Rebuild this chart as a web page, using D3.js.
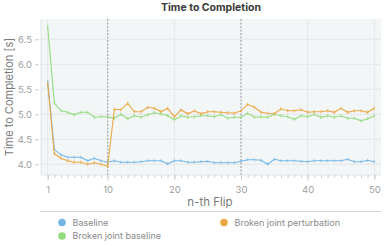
<!DOCTYPE html>
<html><head><meta charset="utf-8">
<script src="https://cdn.jsdelivr.net/npm/d3@7"></script>
<style>body{margin:0;background:#fff;}svg{display:block;font-family:Inter,"Noto Sans",sans-serif;}</style>
</head><body><svg id="c" width="390" height="247"></svg>
<script>
const flips = d3.range(1, 51);
const baseline = [5.66,4.30,4.19,4.14,4.14,4.14,4.07,4.12,4.07,4.04,
  4.07,4.04,4.04,4.04,4.05,4.07,4.07,4.07,4.01,4.07,
  4.07,4.04,4.04,4.05,4.06,4.03,4.03,4.03,4.03,4.06,
  4.09,4.09,4.08,4.00,4.10,4.07,4.07,4.07,4.06,4.05,
  4.07,4.07,4.07,4.07,4.07,4.10,4.05,4.05,4.08,4.05];
const brokenBaseline = [6.75,5.23,5.07,5.04,4.99,5.04,5.04,4.94,4.95,4.95,
  4.92,5.00,4.91,4.97,4.94,4.99,5.03,5.01,4.97,4.89,
  4.97,4.94,4.95,4.97,4.97,4.95,4.99,4.92,4.94,4.94,
  5.02,4.94,4.95,4.94,5.00,4.97,4.95,4.90,4.97,4.95,
  5.00,4.94,4.97,4.94,4.97,4.92,4.92,4.87,4.91,4.97];
const brokenPerturb = [5.62,4.21,4.12,4.07,4.04,4.04,4.00,4.03,4.00,3.96,
  5.10,5.09,5.22,5.05,5.05,5.14,5.12,5.05,5.12,4.95,
  5.09,5.01,5.07,5.01,5.05,5.05,5.04,5.03,5.02,5.07,
  5.20,5.14,5.04,5.02,5.01,5.11,5.07,5.07,5.09,5.04,
  5.05,5.05,5.07,5.04,5.12,5.04,5.07,5.07,5.04,5.12];
const errSize = [0.03, 0.035, 0.035];
const seriesNames = ["Baseline","Broken joint perturbation","Broken joint baseline"];
const seriesColors = ["#74b7e7","#e9a841","#93dc7e"];
const xTicks = [1,10,20,30,40,50];
const yTicks = [4.0,4.5,5.0,5.5,6.0,6.5];
const markers = [10,30];

const svg = d3.select("#c");
const L=41, R=381, T=19, B=175;
const x = d3.scaleLinear().domain([0,51]).range([L,R]);
const y = d3.scaleLinear().domain([3.786,6.906]).range([B,T]);

svg.append("rect").attr("x",L).attr("y",T).attr("width",R-L).attr("height",B-T).attr("fill","#f3f6f7");
// grid
svg.append("g").selectAll("line").data(yTicks).join("line")
  .attr("x1",L).attr("x2",R).attr("y1",d=>y(d)).attr("y2",d=>y(d)).attr("stroke","#e4e7e9").attr("stroke-width",1);
svg.append("g").selectAll("line").data(xTicks.filter(d=>!markers.includes(d))).join("line")
  .attr("x1",d=>x(d)).attr("x2",d=>x(d)).attr("y1",T).attr("y2",B).attr("stroke","#e4e7e9").attr("stroke-width",1);
svg.append("g").selectAll("line").data(markers).join("line")
  .attr("x1",d=>x(d)).attr("x2",d=>x(d)).attr("y1",T).attr("y2",B).attr("stroke","#a3a5aa").attr("stroke-width",1.2).attr("stroke-dasharray","2,1.5");
// axis lines
svg.append("line").attr("x1",L).attr("x2",L).attr("y1",T).attr("y2",B).attr("stroke","#e0e3e5");
svg.append("line").attr("x1",L).attr("x2",R).attr("y1",B).attr("y2",B).attr("stroke","#e0e3e5");

// x axis
const xa = svg.append("g").attr("transform",`translate(0,${B})`)
  .call(d3.axisBottom(x).tickValues(flips).tickSize(3).tickFormat(""));
xa.select(".domain").remove();
xa.selectAll("line").attr("stroke","#ccc");
const xa2 = svg.append("g").attr("transform",`translate(0,${B})`)
  .call(d3.axisBottom(x).tickValues(xTicks).tickSize(5).tickPadding(6).tickFormat(d3.format("d")));
xa2.select(".domain").remove();
xa2.selectAll("line").attr("stroke","#ccc");
xa2.selectAll("text").attr("fill","#a0a0a0").attr("font-size",9.5).attr("font-family","Inter,sans-serif");

// y axis
const ya = svg.append("g").attr("transform",`translate(${L-2},0)`)
  .call(d3.axisLeft(y).tickValues(yTicks).tickSize(4).tickPadding(3).tickFormat(d3.format(".1f")));
ya.select(".domain").remove();
ya.selectAll("line").attr("stroke","#ccc");
ya.selectAll("text").attr("fill","#a0a0a0").attr("font-size",9.5).attr("font-family","Inter,sans-serif");

// series
const allData = [baseline, brokenPerturb, brokenBaseline];
const order = [2,0,1];
order.forEach(i=>{
  const vals = allData[i];
  const pts = flips.map((f,j)=>({f,v:vals[j]}));
  const g = svg.append("g");
  g.selectAll("line.e").data(pts).join("line").attr("class","e")
    .attr("x1",d=>x(d.f)).attr("x2",d=>x(d.f))
    .attr("y1",d=>y(d.v-errSize[i])).attr("y2",d=>y(d.v+errSize[i]))
    .attr("stroke",seriesColors[i]).attr("stroke-opacity",0.65).attr("stroke-width",1.2);
  g.append("path").datum(pts)
    .attr("d",d3.line().x(d=>x(d.f)).y(d=>y(d.v)))
    .attr("fill","none").attr("stroke",seriesColors[i]).attr("stroke-width",1.1);
});

// titles
svg.append("text").attr("x",211).attr("y",10.5).attr("text-anchor","middle")
  .attr("font-size",10.5).attr("font-weight","bold").attr("fill","#3a3a3a").text("Time to Completion");
svg.append("text").attr("x",210).attr("y",206).attr("text-anchor","middle")
  .attr("font-size",11.5).attr("fill","#7a7a7a").text("n-th Flip");
svg.append("text").attr("transform",`translate(12.5,${(T+B)/2}) rotate(-90)`).attr("text-anchor","middle")
  .attr("font-size",11).attr("fill","#7a7a7a").text("Time to Completion [s]");

// separator
svg.append("line").attr("x1",40).attr("x2",381).attr("y1",211.5).attr("y2",211.5).attr("stroke","#d4d4d4");

// legend
const legPos = [[62,222.5],[224,222.5],[62,236]];
const lg = svg.append("g");
seriesNames.forEach((n,i)=>{
  lg.append("circle").attr("cx",legPos[i][0]).attr("cy",legPos[i][1]).attr("r",3.8).attr("fill",seriesColors[i]);
  lg.append("text").attr("x",legPos[i][0]+10.5).attr("y",legPos[i][1]+3.2)
    .attr("font-size",9).attr("fill","#8a8a8a").text(n);
});
</script></body></html>
